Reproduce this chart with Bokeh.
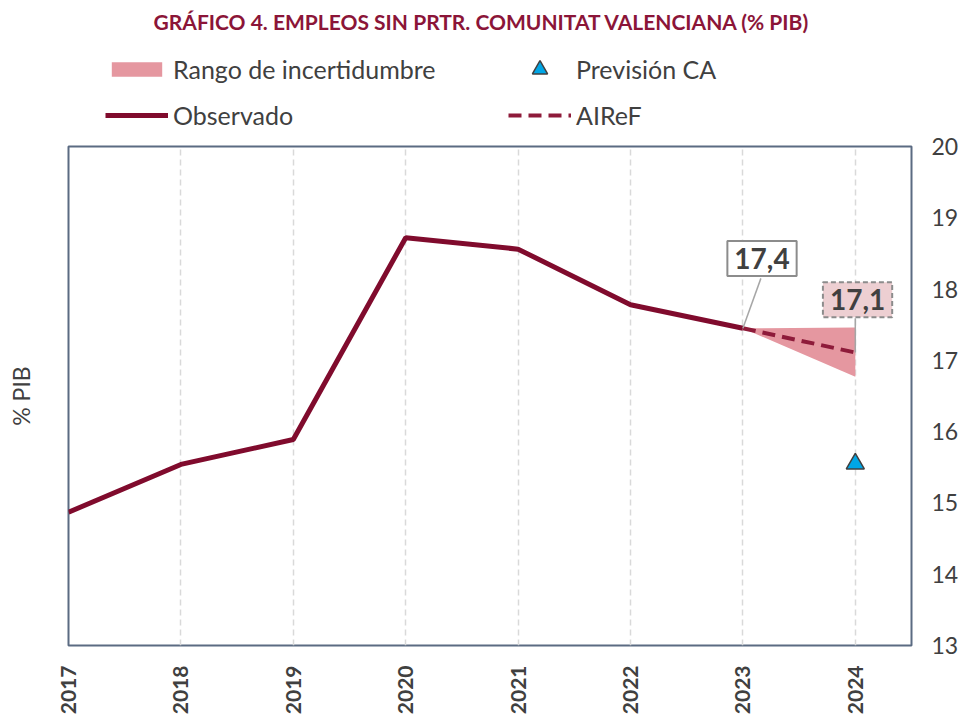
from bokeh.plotting import figure
from bokeh.models import (Legend, LegendItem, LinearAxis, Label, FixedTicker,
                          Range1d)
from bokeh.layouts import column
from bokeh.embed import file_html
from bokeh.resources import INLINE
import math

# ---- data ----
years_obs = [2017, 2018, 2019, 2020, 2021, 2022, 2023]
obs_vals = [14.87, 15.54, 15.89, 18.72, 18.56, 17.78, 17.45]
years_fc = [2023, 2024]
airef_vals = [17.45, 17.11]
range_low = [17.45, 16.77]
range_high = [17.45, 17.46]
ca_year = [2024]
ca_vals = [15.55]
x_ticks = [2017, 2018, 2019, 2020, 2021, 2022, 2023, 2024]
y_ticks = [13, 14, 15, 16, 17, 18, 19, 20]
title_text = "GRÁFICO 4.  EMPLEOS SIN PRTR. COMUNITAT VALENCIANA (% PIB)"
legend_labels = ["Rango de incertidumbre", "Observado", "Previsión CA", "AIReF"]

FONT = "Lato"
GRAY = "#404040"
MAROON = "#800B2D"
DASHRED = "#8E1B3A"
PINK = "#E597A0"
BLUE = "#00A6E6"
NAN = [float("nan")]
DASH = "13 7"

LEFT_B, RIGHT_B = 68, 57

# ---------------- header (title + legend) ----------------
HEAD_H = 131
head = figure(width=968, height=HEAD_H, output_backend="svg",
              toolbar_location=None, x_range=Range1d(0, 1), y_range=Range1d(0, 1),
              min_border=0, min_border_left=LEFT_B, min_border_right=RIGHT_B,
              min_border_top=0, min_border_bottom=0)
head.axis.visible = False
head.grid.visible = False
head.outline_line_color = None

# legend-only renderers (no visible data)
h_range = head.varea(x=NAN, y1=NAN, y2=NAN, fill_color=PINK)
h_obs = head.line(x=NAN, y=NAN, line_color=MAROON, line_width=5)
h_ca = head.scatter(x=NAN, y=NAN, marker="triangle", size=18,
                    fill_color=BLUE, line_color=GRAY, line_width=1.5)
h_airef = head.line(x=NAN, y=NAN, line_color=DASHRED, line_width=4,
                    line_dash=DASH)

title = Label(x=484 - LEFT_B, y=HEAD_H - 21, x_units="screen", y_units="screen",
              text=title_text, text_font=FONT, text_font_style="bold",
              text_font_size="21px", text_color="#8B1538",
              text_align="center", text_baseline="middle")
head.add_layout(title)


def style_legend(lg, glyph_h, spacing):
    lg.label_text_font = FONT
    lg.label_text_font_size = "25px"
    lg.label_text_color = GRAY
    lg.glyph_width = 63
    lg.glyph_height = glyph_h
    lg.label_height = 26
    lg.label_standoff = 5
    lg.spacing = spacing
    lg.padding = 0
    lg.margin = 0
    lg.border_line_color = None
    lg.background_fill_alpha = 0


# rows of ~30 px + 16 spacing: 76 tall, centres at 69 and 115
legend1 = Legend(items=[
    LegendItem(label=legend_labels[0], renderers=[h_range]),
    LegendItem(label=legend_labels[1], renderers=[h_obs]),
], location=(105 - LEFT_B, HEAD_H - 54 - 76))
style_legend(legend1, 18, 16)

# rows of 38 px + 8 spacing: 84 tall, centres at 69 and 115
legend2 = Legend(items=[
    LegendItem(label=legend_labels[2], renderers=[h_ca]),
    LegendItem(label=legend_labels[3], renderers=[h_airef]),
], location=(508 - LEFT_B, HEAD_H - 50 - 84))
style_legend(legend2, 38, 8)

head.add_layout(legend1, "center")
head.add_layout(legend2, "center")

# ---------------- main chart ----------------
p = figure(width=968, height=722 - HEAD_H, output_backend="svg",
           toolbar_location=None,
           x_range=Range1d(2017, 2024.5), y_range=Range1d(13, 20),
           y_axis_location="right",
           min_border_left=LEFT_B, min_border_right=RIGHT_B, min_border_bottom=77,
           min_border_top=146 - HEAD_H)

p.outline_line_color = "#5B6B82"
p.outline_line_width = 2
p.background_fill_color = "white"
p.border_fill_color = "white"

p.ygrid.grid_line_color = None
p.xgrid.ticker = FixedTicker(ticks=x_ticks)
p.xgrid.grid_line_color = "#D9D9D9"
p.xgrid.grid_line_dash = "6 4"
p.xgrid.grid_line_width = 1.5

p.xaxis.ticker = FixedTicker(ticks=x_ticks)
p.xaxis.major_label_orientation = math.pi / 2
p.xaxis.major_label_text_font = FONT
p.xaxis.major_label_text_font_size = "21px"
p.xaxis.major_label_text_font_style = "bold"
p.xaxis.major_label_text_color = GRAY
p.xaxis.major_tick_line_color = None
p.xaxis.minor_tick_line_color = None
p.xaxis.axis_line_color = None
p.xaxis.major_label_standoff = 14

p.yaxis.ticker = FixedTicker(ticks=y_ticks)
p.yaxis.major_label_text_font = FONT
p.yaxis.major_label_text_font_size = "23px"
p.yaxis.major_label_text_color = GRAY
p.yaxis.major_tick_line_color = None
p.yaxis.minor_tick_line_color = None
p.yaxis.axis_line_color = None
p.yaxis.major_label_standoff = 14

left = LinearAxis(axis_label="% PIB", ticker=FixedTicker(ticks=[]))
left.axis_label_text_font = FONT
left.axis_label_text_font_size = "23px"
left.axis_label_text_font_style = "normal"
left.axis_label_text_color = GRAY
left.axis_line_color = None
left.major_tick_line_color = None
left.minor_tick_line_color = None
left.major_label_text_font_size = "0px"
left.axis_label_standoff = 34
p.add_layout(left, "left")

p.varea(x=years_fc, y1=range_low, y2=range_high, fill_color=PINK, fill_alpha=1)
p.line(years_obs, obs_vals, line_color=MAROON, line_width=5)
p.line(years_fc, airef_vals, line_color=DASHRED, line_width=4, line_dash=DASH)
p.scatter(ca_year, ca_vals, marker="triangle", size=18,
          fill_color=BLUE, line_color=GRAY, line_width=1.5)


def fmt(v):
    return f"{v:.1f}".replace(".", ",")


p.segment(x0=[years_obs[-1]], y0=[obs_vals[-1]], x1=[2023.16], y1=[18.15],
          line_color="#A6A6A6", line_width=1.5)
p.segment(x0=[years_fc[-1]], y0=[airef_vals[-1]], x1=[2024.0], y1=[17.59],
          line_color="#A6A6A6", line_width=1.5)

lab1 = Label(x=2023.17, y=18.43, text=fmt(obs_vals[-1]), text_font=FONT,
             text_font_size="28px", text_font_style="bold", text_color=GRAY,
             text_align="center", text_baseline="middle",
             background_fill_color="white", border_line_color="#8C8C8C",
             border_line_width=2, padding=7)
lab2 = Label(x=2024.02, y=17.85, text=fmt(airef_vals[-1]), text_font=FONT,
             text_font_size="28px", text_font_style="bold", text_color=GRAY,
             text_align="center", text_baseline="middle",
             background_fill_color="#EDCFD2", border_line_color="#8C8C8C",
             border_line_width=2, border_line_dash="5 3", padding=7)
p.add_layout(lab1)
p.add_layout(lab2)

layout = column(head, p, spacing=0)
open("out.html", "w").write(file_html(layout, INLINE))
